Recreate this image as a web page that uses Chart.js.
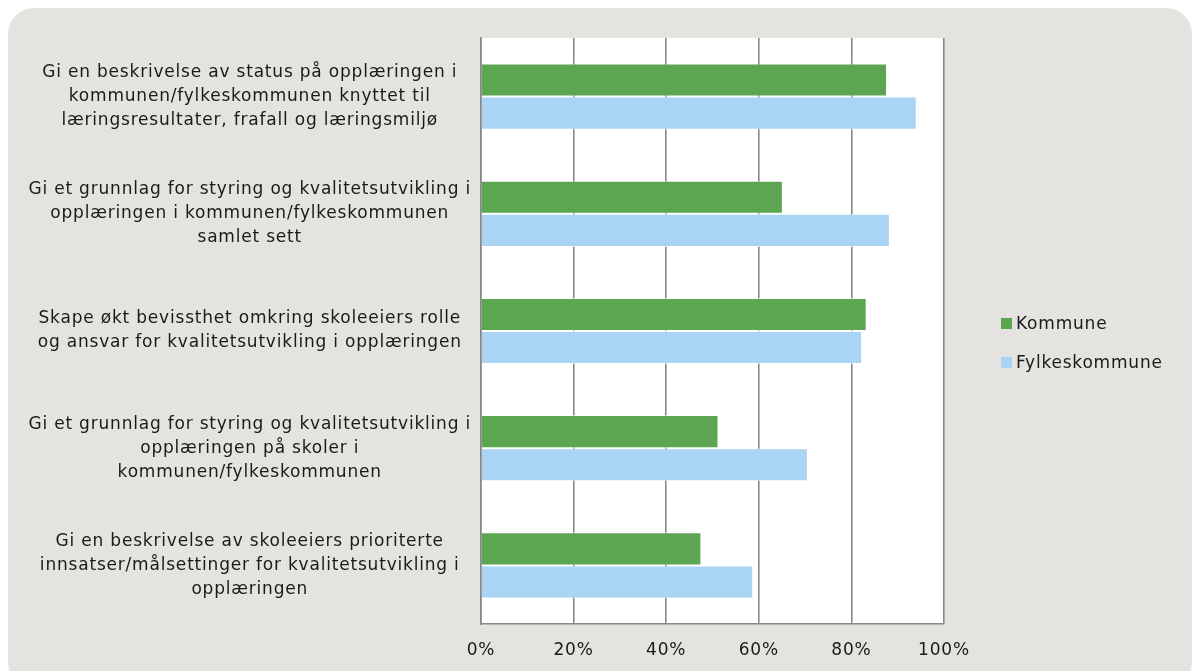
<!DOCTYPE html>
<html>
<head>
<meta charset="utf-8">
<script src="https://cdn.jsdelivr.net/npm/chart.js@4/dist/chart.umd.min.js"></script>
<style>
  html, body { margin: 0; padding: 0; background: #ffffff; }
  #wrap { position: relative; width: 1193px; height: 671px; overflow: hidden; }
  #panel { position: absolute; left: 8px; top: 8px; width: 1184px; height: 680px;
           background: #e4e3df; border-radius: 26px; }
  canvas { position: absolute; left: 0; top: 0; }
  #legend { position: absolute; left: 1001px; top: 311px; font-family: "DejaVu Sans", sans-serif;
            font-size: 17px; letter-spacing: 0.8px; color: #1a1a1a; }
  .item { display: flex; align-items: center; height: 24px; margin-bottom: 15px; }
  .swatch { width: 11px; height: 11px; margin-right: 4px; }
</style>
</head>
<body>
<div id="wrap">
  <div id="panel"></div>
  <canvas id="chart" width="1193" height="671"></canvas>
  <div id="legend"></div>
</div>
<script>
const categories = [
  ['Gi en beskrivelse av status på opplæringen i', 'kommunen/fylkeskommunen knyttet til', 'læringsresultater, frafall og læringsmiljø'],
  ['Gi et grunnlag for styring og kvalitetsutvikling i', 'opplæringen i kommunen/fylkeskommunen', 'samlet sett'],
  ['Skape økt bevissthet omkring skoleeiers rolle', 'og ansvar for kvalitetsutvikling i opplæringen'],
  ['Gi et grunnlag for styring og kvalitetsutvikling i', 'opplæringen på skoler i', 'kommunen/fylkeskommunen'],
  ['Gi en beskrivelse av skoleeiers prioriterte', 'innsatser/målsettinger for kvalitetsutvikling i', 'opplæringen']
];
const kommune = [87.7, 65.2, 83.3, 51.3, 47.6];
const fylkeskommune = [94.1, 88.3, 82.3, 70.6, 58.8];
const xTicks = [0, 20, 40, 60, 80, 100];

// wider letter spacing to get closer to the original Verdana look
const spacing = {
  id: 'spacing',
  beforeLayout(chart) { chart.ctx.letterSpacing = '0.8px'; },
  beforeDraw(chart) { chart.ctx.letterSpacing = '0.8px'; }
};

const plotBg = {
  id: 'plotBg',
  beforeDraw(chart) {
    const a = chart.chartArea;
    const ctx = chart.ctx;
    ctx.save();
    ctx.fillStyle = '#ffffff';
    ctx.fillRect(a.left, a.top, a.right - a.left, a.bottom - a.top);
    ctx.restore();
  }
};

const font = { family: '"DejaVu Sans", sans-serif', size: 17 };

const chart = new Chart(document.getElementById('chart'), {
  type: 'bar',
  data: {
    labels: categories,
    datasets: [
      { label: 'Kommune', data: kommune, backgroundColor: '#5ca652',
        borderColor: 'rgba(255,255,255,0.6)', borderWidth: 1 },
      { label: 'Fylkeskommune', data: fylkeskommune, backgroundColor: '#a9d4f4',
        borderColor: 'rgba(255,255,255,0.6)', borderWidth: 1 }
    ]
  },
  options: {
    indexAxis: 'y',
    responsive: false,
    animation: false,
    layout: { padding: { left: 0, right: 249, top: 38, bottom: 7 } },
    datasets: { bar: { categoryPercentage: 0.565, barPercentage: 1.0 } },
    plugins: { legend: { display: false }, tooltip: { enabled: false } },
    scales: {
      x: {
        min: 0, max: 100,
        afterBuildTicks(scale) { scale.ticks = xTicks.map(v => ({ value: v })); },
        afterFit(scale) { scale.height = 40; },
        grid: { color: '#888888', lineWidth: 1.6, drawTicks: false },
        border: { display: true, color: '#888888', width: 1.6 },
        ticks: { font: font, color: '#1a1a1a', padding: 16, callback: v => v + '%' }
      },
      y: {
        afterFit(scale) {
          scale.width = 481;
          scale.paddingTop = 0;
          scale.paddingBottom = 0;
        },
        grid: { display: false, drawTicks: false },
        border: { display: true, color: '#888888', width: 1.6 },
        ticks: { font: Object.assign({ lineHeight: 1.41 }, font), color: '#1a1a1a',
                 crossAlign: 'center', padding: 10 }
      }
    }
  },
  plugins: [spacing, plotBg]
});

const legend = document.getElementById('legend');
chart.data.datasets.forEach(ds => {
  const item = document.createElement('div');
  item.className = 'item';
  const sw = document.createElement('span');
  sw.className = 'swatch';
  sw.style.background = ds.backgroundColor;
  const txt = document.createElement('span');
  txt.textContent = ds.label;
  item.appendChild(sw);
  item.appendChild(txt);
  legend.appendChild(item);
});
</script>
</body>
</html>
